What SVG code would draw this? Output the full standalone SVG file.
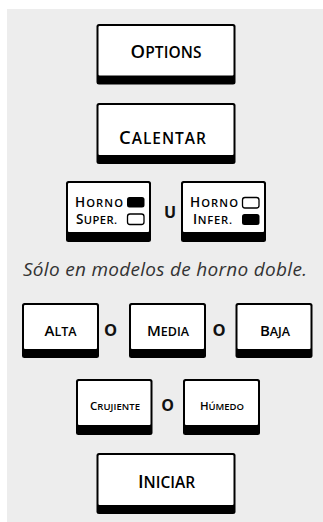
<svg xmlns="http://www.w3.org/2000/svg" width="323" height="522" viewBox="0 0 323 522">
<style>
.bk{fill:#000}
.wh{fill:#fff}
.t{font-family:"Open Sans","Noto Sans",sans-serif;font-weight:600;fill:#000;text-anchor:middle}
.l{font-family:"Open Sans","Noto Sans",sans-serif;font-weight:600;fill:#000}
.c{font-family:"Open Sans","Noto Sans",sans-serif;font-weight:700;fill:#111;text-anchor:middle}
.it{font-family:"Open Sans","Noto Sans",sans-serif;font-style:italic;fill:#333;text-anchor:middle;font-size:19px}
.off{fill:#fff;stroke:#000;stroke-width:1.3}
</style>
<rect x="7" y="9" width="316" height="513" fill="#ededed"/>
<g id="connectors"></g>
<g id="options">
<rect class="bk" x="96.5" y="24" width="139" height="60.5" rx="2.5"/>
<rect class="wh" x="98.5" y="26" width="135" height="49.5" rx="1"/>
<text class="t" x="166" y="58" textLength="71" lengthAdjust="spacing"><tspan font-size="18.5">O</tspan><tspan font-size="15.5">PTIONS</tspan></text>
</g>
<g id="calentar">
<rect class="bk" x="96.5" y="103" width="139" height="61" rx="2.5"/>
<rect class="wh" x="98.5" y="105" width="135" height="50" rx="1"/>
<text class="t" x="162.5" y="144" textLength="87" lengthAdjust="spacing"><tspan font-size="18.5">C</tspan><tspan font-size="15.5">ALENTAR</tspan></text>
</g>
<g id="horno-super">
<rect class="bk" x="66" y="181" width="85" height="61" rx="2.5"/>
<rect class="wh" x="68" y="183" width="81" height="49" rx="1"/>
<text class="l"><tspan x="75" y="206.5" textLength="48" lengthAdjust="spacing"><tspan font-size="13.5">H</tspan><tspan font-size="11.2">ORNO</tspan></tspan><tspan x="76" y="223.5" textLength="41" lengthAdjust="spacing"><tspan font-size="13.5">S</tspan><tspan font-size="11.2">UPER.</tspan></tspan></text>
<rect x="127" y="197" width="17.5" height="10.5" rx="2.5" fill="#000"/>
<rect class="off" x="127.5" y="214" width="16.5" height="10.5" rx="2.5"/>
</g>
<text class="c" x="170" y="218" font-size="16">U</text>
<g id="horno-infer">
<rect class="bk" x="181" y="181" width="85" height="61" rx="2.5"/>
<rect class="wh" x="183" y="183" width="81" height="49" rx="1"/>
<text class="l"><tspan x="190" y="206.5" textLength="48" lengthAdjust="spacing"><tspan font-size="13.5">H</tspan><tspan font-size="11.2">ORNO</tspan></tspan><tspan x="193" y="223.5" textLength="39" lengthAdjust="spacing"><tspan font-size="13.5">I</tspan><tspan font-size="11.2">NFER.</tspan></tspan></text>
<rect class="off" x="242.5" y="197.5" width="16.5" height="10.5" rx="2.5"/>
<rect x="242" y="214" width="17.5" height="11" rx="2.5" fill="#000"/>
</g>
<text class="it" x="165" y="276" textLength="284" lengthAdjust="spacing">Sólo en modelos de horno doble.</text>
<g id="alta">
<rect class="bk" x="22" y="303" width="77" height="55" rx="2.5"/>
<rect class="wh" x="24" y="305" width="73" height="44" rx="1"/>
<text class="t" x="60.5" y="336"><tspan font-size="15">A</tspan><tspan font-size="12.5">LTA</tspan></text>
</g>
<text class="c" x="110.5" y="336" font-size="16.5">O</text>
<g id="media">
<rect class="bk" x="129" y="303" width="77" height="55" rx="2.5"/>
<rect class="wh" x="131" y="305" width="73" height="44" rx="1"/>
<text class="t" x="168" y="336"><tspan font-size="15">M</tspan><tspan font-size="12.5">EDIA</tspan></text>
</g>
<text class="c" x="219" y="336" font-size="16.5">O</text>
<g id="baja">
<rect class="bk" x="235.5" y="303" width="77" height="55" rx="2.5"/>
<rect class="wh" x="237.5" y="305" width="73" height="44" rx="1"/>
<text class="t" x="275" y="336"><tspan font-size="15">B</tspan><tspan font-size="12.5">AJA</tspan></text>
</g>
<g id="crujiente">
<rect class="bk" x="76" y="379" width="76.5" height="56" rx="2.5"/>
<rect class="wh" x="78" y="381" width="72.5" height="44" rx="1"/>
<text class="t" x="115" y="410" textLength="50" lengthAdjust="spacing"><tspan font-size="11.5">C</tspan><tspan font-size="9.5">RUJIENTE</tspan></text>
</g>
<text class="c" x="167.5" y="410.5" font-size="16">O</text>
<g id="humedo">
<rect class="bk" x="183" y="379" width="77" height="56" rx="2.5"/>
<rect class="wh" x="185" y="381" width="73" height="44" rx="1"/>
<text class="t" x="222" y="410" textLength="44" lengthAdjust="spacing"><tspan font-size="11.5">H</tspan><tspan font-size="9.5">ÚMEDO</tspan></text>
</g>
<g id="iniciar">
<rect class="bk" x="96.5" y="453" width="139" height="61" rx="2.5"/>
<rect class="wh" x="98.5" y="455" width="135" height="50" rx="1"/>
<text class="t" x="166.5" y="487.5"><tspan font-size="18.5">I</tspan><tspan font-size="15.5">NICIAR</tspan></text>
</g>
</svg>
